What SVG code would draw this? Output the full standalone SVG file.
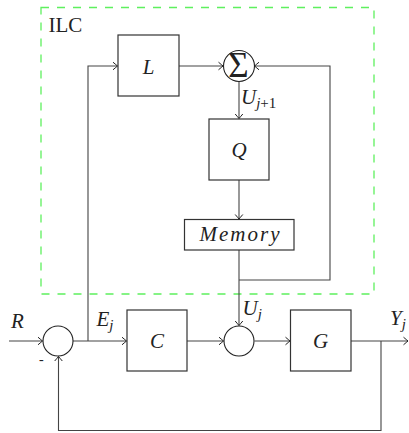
<svg xmlns="http://www.w3.org/2000/svg" width="409" height="433" viewBox="0 0 409 433">
<defs>
<marker id="arr" viewBox="-6 -5 8 10" markerWidth="8" markerHeight="10" refX="0" refY="0" orient="auto" markerUnits="userSpaceOnUse">
<path d="M-4.5,-3.8 Q-1.2,-1 0,0 Q-1.2,1 -4.5,3.8" fill="none" stroke="#222" stroke-width="1"/>
</marker>
<style>
.box{fill:#fff;stroke:#333;stroke-width:1.2}
.sum{fill:#fff;stroke:#222;stroke-width:1.1}
.ln{fill:none;stroke:#444;stroke-width:1.1}
text{fill:#222}
.math{font-style:italic;font-size:21px}
.sub{font-size:15px}
.rm{font-size:21px}
</style>
</defs>
<rect id="ilc" x="41" y="7.5" width="333" height="286.5" fill="none" stroke="#5ef05e" stroke-width="1.3" stroke-dasharray="8 8"/>
<text class="rm" x="48.5" y="32" font-family="Liberation Serif, serif">ILC</text>
<g id="connectors">
<path class="ln" d="M9,341 H42.5" marker-end="url(#arr)"/>
<path class="ln" d="M73,341 H126.5" marker-end="url(#arr)"/>
<path class="ln" d="M88,341 V66 H117.5" marker-end="url(#arr)"/>
<path class="ln" d="M179,66 H223" marker-end="url(#arr)"/>
<path class="ln" d="M239,280 H330 V66 H254.5" marker-end="url(#arr)"/>
<path class="ln" d="M239,81.5 V118.5" marker-end="url(#arr)"/>
<path class="ln" d="M239,180 V219" marker-end="url(#arr)"/>
<path class="ln" d="M239,250 V325.5" marker-end="url(#arr)"/>
<path class="ln" d="M187,341 H223.5" marker-end="url(#arr)"/>
<path class="ln" d="M254.5,341 H290" marker-end="url(#arr)"/>
<path class="ln" d="M351,341 H408" marker-end="url(#arr)"/>
<path class="ln" d="M381,341 V430.5 H58.5 V356.5" marker-end="url(#arr)"/>
</g>
<g id="L"><rect class="box" x="118" y="35" width="61" height="61"/><text class="math" x="148.5" y="73.5" text-anchor="middle" font-family="Liberation Serif, serif">L</text></g>
<g id="sigma"><circle class="sum" cx="239" cy="66" r="15.5"/><text x="238.5" y="76.5" font-size="35" text-anchor="middle" font-family="Liberation Serif, serif">Σ</text></g>
<g id="Q"><rect class="box" x="209" y="119" width="60" height="61"/><text class="math" x="239" y="156.5" text-anchor="middle" font-family="Liberation Serif, serif">Q</text></g>
<g id="memory"><rect class="box" x="184.5" y="219.5" width="109.5" height="30.5"/><text class="math" x="239.5" y="241" text-anchor="middle" textLength="80" lengthAdjust="spacing" font-family="Liberation Serif, serif">Memory</text></g>
<g id="sum1"><circle class="sum" cx="58" cy="341" r="15"/></g>
<g id="C"><rect class="box" x="127" y="310" width="60" height="61"/><text class="math" x="157" y="348" text-anchor="middle" font-family="Liberation Serif, serif">C</text></g>
<g id="sum2"><circle class="sum" cx="239" cy="341" r="15"/></g>
<g id="G"><rect class="box" x="290.5" y="310" width="60.5" height="61"/><text class="math" x="320.5" y="348" text-anchor="middle" font-family="Liberation Serif, serif">G</text></g>
<g id="labels" font-family="Liberation Serif, serif">
<text class="math" x="241" y="104">U<tspan class="sub" dy="4">j</tspan><tspan class="sub" font-style="normal">+1</tspan></text>
<text class="math" x="11" y="328">R</text>
<text class="math" x="96.5" y="326">E<tspan class="sub" dy="4">j</tspan></text>
<text class="math" x="242.5" y="315">U<tspan class="sub" dy="4">j</tspan></text>
<text class="math" x="390" y="325">Y<tspan class="sub" dy="4">j</tspan></text>
<text x="39" y="364" font-size="14">-</text>
</g>
</svg>
